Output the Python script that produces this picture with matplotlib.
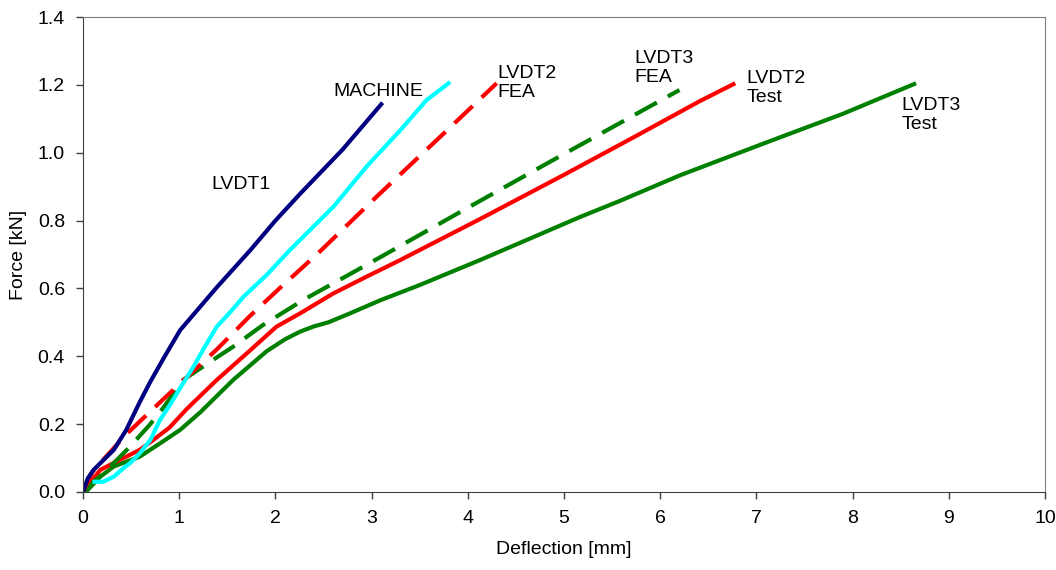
import numpy as np
import matplotlib.pyplot as plt

plt.rcParams['font.family'] = ['Liberation Sans', 'DejaVu Sans']

# values (deflection mm, force kN)
lvdt1_x = [0.0, 0.05, 0.11, 0.32, 0.45, 0.59, 0.70, 0.85, 1.01, 1.20, 1.39, 1.74, 2.00, 2.26, 2.70, 3.10]
lvdt1_y = [0.0, 0.04, 0.065, 0.124, 0.183, 0.265, 0.325, 0.40, 0.477, 0.54, 0.603, 0.713, 0.80, 0.88, 1.01, 1.143]

machine_x = [0.12, 0.21, 0.32, 0.42, 0.49, 0.59, 0.70, 0.80, 0.90, 1.04, 1.15, 1.25, 1.39,
             1.53, 1.67, 1.91, 2.15, 2.60, 2.95, 3.30, 3.57, 3.80]
machine_y = [0.03, 0.03, 0.045, 0.07, 0.085, 0.114, 0.153, 0.212, 0.255, 0.32, 0.37, 0.42, 0.487,
             0.53, 0.576, 0.64, 0.713, 0.84, 0.96, 1.067, 1.155, 1.205]

fea2_x = [0.0, 0.1, 0.45, 0.77, 1.01, 1.39, 1.74, 2.08, 2.43, 3.05, 3.78, 4.30]
fea2_y = [0.0, 0.06, 0.17, 0.256, 0.32, 0.42, 0.52, 0.61, 0.70, 0.87, 1.065, 1.205]

fea3_x = [0.0, 0.32, 0.49, 0.70, 0.84, 1.04, 1.35, 1.56, 1.87, 2.29, 2.71, 3.14, 3.95, 4.82, 6.20]
fea3_y = [0.0, 0.085, 0.134, 0.20, 0.25, 0.33, 0.389, 0.428, 0.492, 0.566, 0.632, 0.70, 0.83, 0.968, 1.185]

test2_x = [0.0, 0.18, 0.38, 0.59, 0.73, 0.90, 1.08, 1.39, 1.74, 2.01, 2.26, 2.60, 2.95, 3.30,
           4.13, 5.00, 5.72, 6.41, 6.78]
test2_y = [0.0, 0.065, 0.094, 0.124, 0.153, 0.19, 0.245, 0.33, 0.418, 0.487, 0.527, 0.585, 0.635, 0.684,
           0.805, 0.935, 1.045, 1.152, 1.205]

test3_x = [0.03, 0.18, 0.32, 0.59, 0.80, 1.01, 1.22, 1.56, 1.91, 2.10, 2.26, 2.40, 2.55, 2.78, 3.09,
           3.50, 4.13, 5.17, 5.58, 6.21, 7.10, 7.90, 8.66]
test3_y = [0.0, 0.045, 0.075, 0.104, 0.143, 0.183, 0.235, 0.33, 0.415, 0.45, 0.473, 0.488, 0.50, 0.527, 0.565,
           0.61, 0.684, 0.811, 0.858, 0.934, 1.03, 1.115, 1.205]

labels = ["LVDT1", "MACHINE", "LVDT2\nFEA", "LVDT3\nFEA", "LVDT2\nTest", "LVDT3\nTest"]
label_x = [1.33, 2.60, 4.31, 5.73, 6.90, 8.51]
label_y = [0.905, 1.18, 1.205, 1.25, 1.19, 1.11]

fs = 14
lw = 3
fig = plt.figure(figsize=(10.56, 5.70), dpi=100)
ax = fig.add_axes([0.0786, 0.137, 0.911, 0.833])

ax.plot(test3_x, test3_y, color='#008000', linewidth=lw, solid_capstyle='butt')
ax.plot(test2_x, test2_y, color='#FF0000', linewidth=lw, solid_capstyle='butt')
ax.plot(fea3_x, fea3_y, color='#008000', linewidth=lw, linestyle=(0, (6, 3)))
ax.plot(fea2_x, fea2_y, color='#FF0000', linewidth=lw, linestyle=(0, (6, 3)))
ax.plot(machine_x, machine_y, color='#00FFFF', linewidth=lw)
ax.plot(lvdt1_x, lvdt1_y, color='#000080', linewidth=lw)

for txt, tx, ty in zip(labels, label_x, label_y):
    ax.text(tx, ty, txt, fontsize=fs, ha='left', va='center', linespacing=1.15)

ax.set_xlim(0, 10)
ax.set_ylim(0, 1.4)
ax.set_xticks(np.arange(0, 11, 1))
ax.set_yticks(np.arange(0, 1.41, 0.2))
ax.set_yticklabels([f"{v:.1f}" for v in np.arange(0, 1.41, 0.2)])
ax.tick_params(direction='out', length=5, width=1, labelsize=fs, color='#404040', pad=8)
ax.set_xlabel("Deflection [mm]", fontsize=fs, labelpad=10)
ax.set_ylabel("Force [kN]", fontsize=fs, labelpad=8)

ax.spines["left"].set_color('#404040')
ax.spines["bottom"].set_color('#404040')
ax.spines["top"].set_color('#808080')
ax.spines["right"].set_color('#808080')

fig.savefig("out.png", dpi=100)
